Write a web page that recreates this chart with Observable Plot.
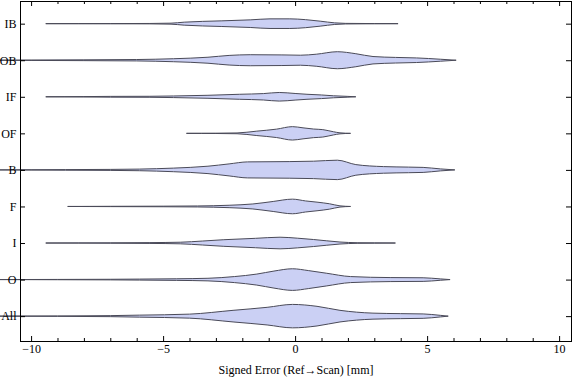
<!DOCTYPE html>
<html><head><meta charset="utf-8">
<script src="https://cdn.jsdelivr.net/npm/d3@7"></script>
<script src="https://cdn.jsdelivr.net/npm/@observablehq/plot@0.6"></script>
<style>body{margin:0;background:#fff}</style>
</head><body><div id="chart"></div>
<script>
const categories = ["IB","OB","IF","OF","B","F","I","O","All"];
// violin profiles: [signed error (mm), relative density]
const IB  = [[-9.43,0],[-7,0.1],[-5.5,0.2],[-4.7,0.5],[-4.2,1.5],[-2.8,2.8],[-1.7,3.8],[-0.95,4.8],[-0.2,4.8],[0.4,4],[0.95,2.5],[1.5,0.8],[1.9,0.3],[3,0.1],[3.9,0]];
const OB  = [[-11.5,0],[-10,0.2],[-8,0.4],[-6,0.7],[-4.6,1.5],[-3.3,3],[-2.5,4.8],[-1.7,5.5],[-0.5,5.3],[0.2,5],[0.8,6],[1.6,8.5],[2.3,6.5],[2.95,3.7],[3.8,2.8],[4.6,2.3],[5.5,1],[6.1,0]];
const IF  = [[-9.43,0],[-8,0.2],[-7,0.4],[-5.5,0.5],[-4.6,0.8],[-3.3,1.5],[-2.1,2.5],[-1.2,3.2],[-0.6,4.3],[0,3.3],[0.45,2.5],[1,1.8],[1.45,1],[2,0.4],[2.3,0]];
const OF  = [[-4.1,0],[-3,0.15],[-2.2,0.4],[-1.45,2.2],[-0.7,4.2],[-0.1,6.7],[0.3,5.5],[0.7,4.3],[1.05,3.7],[1.45,1.6],[1.7,0.5],[2.1,0]];
const B   = [[-11.3,0],[-10,0.15],[-8.7,0.3],[-7,0.5],[-5.9,0.8],[-4.6,1.8],[-3.3,3.7],[-2.5,6],[-1.8,8],[-0.2,8.3],[0.7,8.7],[1.6,9.7],[2.3,5.3],[3.35,3.3],[4.3,2.8],[4.85,2.5],[5.5,1],[6.05,0]];
const F   = [[-8.6,0],[-7,0.15],[-5,0.3],[-3.7,0.5],[-2.5,1.2],[-1.6,2.5],[-0.83,5],[-0.1,7.3],[0.4,5.5],[0.83,4.3],[1.3,2.7],[1.7,0.6],[2.1,0]];
const I   = [[-9.43,0],[-7,0.2],[-5.5,0.4],[-4.35,0.8],[-3.5,2],[-2.7,3.3],[-1.5,4.7],[-0.57,5.8],[0.1,4.8],[0.7,3.5],[1.2,2.2],[1.7,1],[2.35,0.3],[3,0.15],[3.8,0]];
const O   = [[-11.3,0],[-9,0.15],[-7,0.3],[-5.9,0.5],[-4.5,0.8],[-3.3,1.3],[-2.3,3],[-1.45,5.5],[-0.8,8.5],[-0.1,10.8],[0.5,9],[1.2,6.3],[2.1,3],[3.6,2],[4.85,1.8],[5.5,0.7],[5.87,0]];
const All = [[-11.3,0],[-9,0.2],[-7,0.5],[-5.9,1],[-4,2],[-2.35,5.8],[-1.06,8.8],[-0.1,11.7],[0.83,9.8],[1.7,5.8],[2.95,3],[4,2.5],[4.85,2.2],[5.5,0.8],[5.8,0]];
const majorTicks = [-10,-5,0,5,10];
const minorTicks = [-9,-8,-7,-6,-4,-3,-2,-1,1,2,3,4,6,7,8,9];
const xLabel = "Signed Error (Ref\u2192Scan) [mm]";

const profiles = [IB, OB, IF, OF, B, F, I, O, All];
const widthScale = 1 / 36.5; // density -> category units
const rows = categories.flatMap((c, i) => profiles[i].map(([x, d]) => ({
  cat: c, x, y1: i - d * widthScale, y2: i + d * widthScale
})));

const W = 576, H = 381, mL = 20, mR = 5, mT = 1, mB = 40;
const innerW = W - mL - mR, innerH = H - mT - mB;
const idx = d3.range(categories.length);

const chart = Plot.plot({
  width: W, height: H,
  marginLeft: mL, marginRight: mR, marginTop: mT, marginBottom: mB,
  style: {fontFamily: "Liberation Serif", fontSize: "12px", color: "#000", background: "#fff"},
  x: {domain: [-10.42, 10.45]},
  y: {domain: [8.68, -0.62]},
  marks: [
    Plot.areaY(rows, {x: "x", y1: "y1", y2: "y2", z: "cat", curve: "monotone-x",
      fill: "#cbd0f4", stroke: "#4a4a58", strokeWidth: 1}),
    Plot.frame({stroke: "#000", strokeWidth: 1}),
    Plot.ruleX(majorTicks, {insetTop: innerH - 5, stroke: "#000"}),
    Plot.ruleX(majorTicks, {insetBottom: innerH - 5, stroke: "#000"}),
    Plot.ruleX(minorTicks, {insetTop: innerH - 3, stroke: "#000"}),
    Plot.ruleX(minorTicks, {insetBottom: innerH - 3, stroke: "#000"}),
    Plot.ruleY(idx, {insetRight: innerW - 5, stroke: "#000"}),
    Plot.ruleY(idx, {insetLeft: innerW - 5, stroke: "#000"}),
    Plot.axisX(majorTicks, {tickSize: 0, tickPadding: 3, label: null, fontSize: 12}),
    Plot.axisY(idx, {tickSize: 0, tickPadding: 4, label: null, fontSize: 12, tickFormat: i => categories[i]}),
    Plot.text([xLabel], {frameAnchor: "bottom", dy: 32, text: d => d, fontSize: 12, fill: "#000"})
  ]
});
document.getElementById("chart").appendChild(chart);
</script>
</body></html>
